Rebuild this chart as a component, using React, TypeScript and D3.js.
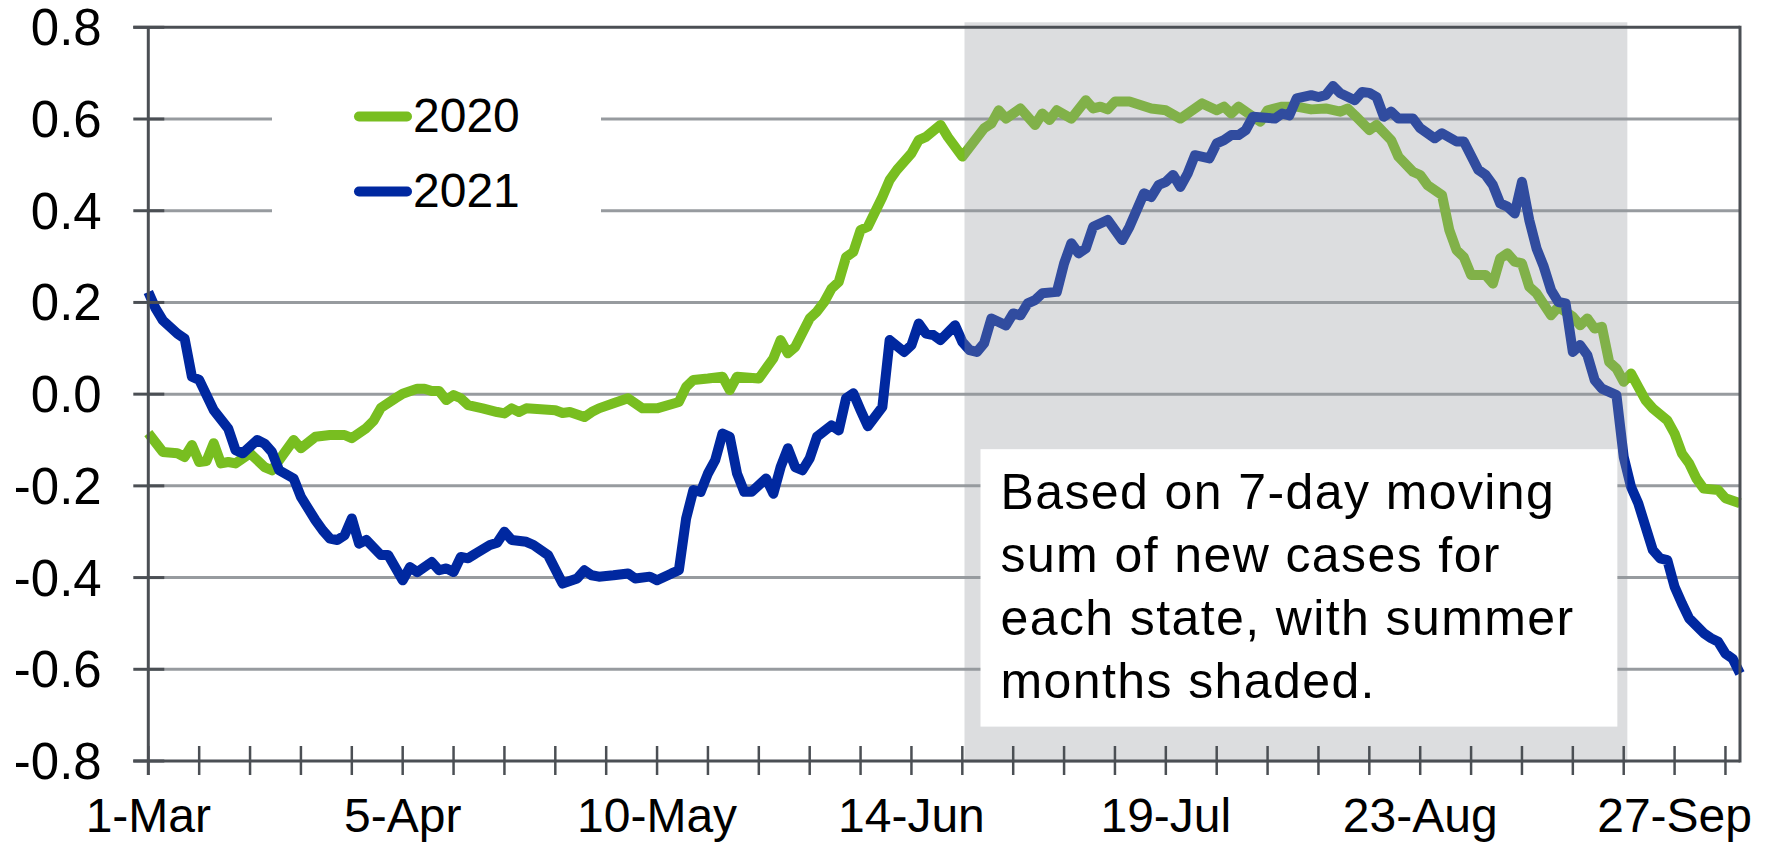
import React from "react";
import * as d3 from "d3";

// ---------- data (day offset from 1-Mar, value) ----------
const days2020 = [0,2,4,5,6,7,8,9,10,11,12,14,16,17,20,21,23,25,27,28,30,31,32,34,35,37,38,39,40,41,42,43,44,46,48,49,50,51,52,54,56,57,58,60,61,62,64,66,68,70,73,74,75,77,79,80,81,84,86,87,88,89,91,92,93,94,95,96,97,98,99,101,102,103,105,106,107,109,110,112,115,116,117,118,120,122,123,124,125,127,129,130,131,132,133,135,138,140,142,145,147,148,149,150,153,154,156,158,160,162,164,165,166,168,169,171,172,174,175,176,178,179,180,181,182,184,185,186,187,188,189,190,191,193,194,196,197,198,199,200,201,202,203,204,205,206,207,209,210,211,212,213,214,216,217,219];
const values2020 = [-0.085,-0.126,-0.129,-0.137,-0.111,-0.148,-0.146,-0.107,-0.151,-0.148,-0.151,-0.129,-0.159,-0.166,-0.1,-0.118,-0.093,-0.089,-0.089,-0.096,-0.074,-0.058,-0.03,-0.009,0.001,0.012,0.012,0.007,0.007,-0.013,-0.002,-0.009,-0.024,-0.031,-0.039,-0.042,-0.031,-0.039,-0.031,-0.033,-0.035,-0.041,-0.039,-0.05,-0.039,-0.031,-0.02,-0.009,-0.031,-0.031,-0.017,0.016,0.031,0.034,0.038,0.009,0.038,0.034,0.078,0.118,0.089,0.103,0.165,0.18,0.201,0.23,0.245,0.299,0.31,0.358,0.365,0.43,0.467,0.489,0.525,0.554,0.561,0.587,0.561,0.518,0.58,0.59,0.619,0.601,0.623,0.587,0.612,0.598,0.619,0.601,0.641,0.623,0.627,0.621,0.638,0.638,0.623,0.619,0.601,0.634,0.619,0.627,0.612,0.627,0.594,0.619,0.627,0.627,0.621,0.623,0.616,0.623,0.608,0.576,0.587,0.554,0.518,0.485,0.478,0.456,0.434,0.358,0.314,0.299,0.26,0.26,0.241,0.296,0.307,0.289,0.285,0.234,0.22,0.172,0.19,0.169,0.15,0.165,0.143,0.147,0.07,0.056,0.027,0.045,0.016,-0.013,-0.031,-0.057,-0.086,-0.129,-0.151,-0.184,-0.206,-0.209,-0.227,-0.238];

const days2021 = [0,1,2,4,5,6,7,9,11,12,13,15,16,17,18,20,21,23,24,25,26,27,28,29,30,32,33,35,36,37,39,40,41,42,43,44,45,47,48,49,50,52,53,55,57,59,60,61,62,64,66,67,69,70,72,73,74,75,76,77,78,79,80,81,82,83,85,86,87,88,89,90,91,92,94,95,96,97,98,99,101,102,104,105,106,107,108,109,111,112,113,114,115,116,118,119,120,121,122,123,125,126,127,128,129,130,132,134,135,137,138,139,140,141,142,143,144,146,147,148,149,150,151,152,155,156,157,158,160,161,162,163,164,166,167,168,169,170,171,172,174,175,177,178,180,181,183,184,185,186,187,188,189,190,191,192,193,194,195,196,197,198,199,200,202,203,204,205,207,208,209,210,211,212,214,215,216,217,218,219];
const values2021 = [0.223,0.187,0.161,0.132,0.121,0.038,0.031,-0.035,-0.075,-0.122,-0.129,-0.1,-0.108,-0.126,-0.166,-0.184,-0.224,-0.275,-0.297,-0.315,-0.318,-0.308,-0.271,-0.326,-0.318,-0.351,-0.351,-0.406,-0.377,-0.388,-0.366,-0.384,-0.38,-0.388,-0.355,-0.358,-0.348,-0.329,-0.324,-0.3,-0.318,-0.322,-0.329,-0.351,-0.413,-0.402,-0.384,-0.395,-0.398,-0.395,-0.391,-0.402,-0.398,-0.406,-0.391,-0.384,-0.271,-0.209,-0.213,-0.173,-0.144,-0.086,-0.093,-0.173,-0.213,-0.213,-0.184,-0.217,-0.159,-0.118,-0.159,-0.166,-0.14,-0.093,-0.068,-0.079,-0.009,0.002,-0.035,-0.07,-0.028,0.118,0.092,0.107,0.154,0.132,0.129,0.118,0.15,0.114,0.096,0.092,0.111,0.165,0.15,0.176,0.172,0.198,0.205,0.22,0.223,0.285,0.329,0.307,0.318,0.365,0.38,0.336,0.365,0.438,0.43,0.456,0.463,0.478,0.452,0.481,0.521,0.514,0.547,0.554,0.565,0.565,0.576,0.605,0.601,0.612,0.608,0.645,0.652,0.648,0.652,0.672,0.656,0.641,0.659,0.657,0.648,0.605,0.616,0.601,0.601,0.58,0.558,0.569,0.551,0.551,0.489,0.478,0.456,0.416,0.409,0.394,0.463,0.38,0.318,0.278,0.227,0.201,0.198,0.092,0.107,0.085,0.031,0.012,-0.002,-0.137,-0.202,-0.238,-0.34,-0.358,-0.362,-0.42,-0.456,-0.489,-0.521,-0.532,-0.54,-0.566,-0.577,-0.609];

const seriesNames = ["2020", "2021"];
const seriesColors = ["#78BE20", "#0028A0"];
const xTickDays = d3.range(0, 218, 7);
const xLabelDays = [0, 35, 70, 105, 140, 175, 210];
const xLabels = ["1-Mar", "5-Apr", "10-May", "14-Jun", "19-Jul", "23-Aug", "27-Sep"];
const yTicks = [0.8, 0.6, 0.4, 0.2, 0.0, -0.2, -0.4, -0.6, -0.8];
const summerStartDay = 112.3;
const summerEndDay = 203.5;
const noteLines = [
  "Based on 7-day moving",
  "sum of new cases for",
  "each state, with summer",
  "months shaded.",
];

const W = 1770;
const H = 844;
const FONT = "'Liberation Sans', Arial, Helvetica, sans-serif";

export default function App() {
  const left = 148.3, right = 1740, top = 27.3, bottom = 761;
  const x = d3.scaleLinear().domain([0, 219]).range([left, right]);
  const y = d3.scaleLinear().domain([-0.8, 0.8]).range([bottom, top]);

  const line = d3
    .line<[number, number]>()
    .x((d) => x(d[0]))
    .y((d) => y(d[1]));

  const s2020 = days2020.map((d, i) => [d, values2020[i]] as [number, number]);
  const s2021 = days2021.map((d, i) => [d, values2021[i]] as [number, number]);
  const series = [s2020, s2021];

  const axisColor = "#4b4f54";
  const gridColor = "#979b9f";

  const boxX = x(summerStartDay) + 16;
  const boxW = x(summerEndDay) - 10 - boxX;
  const boxY = y(-0.12);
  const boxH = y(-0.725) - boxY;

  return (
    <div style={{ position: "fixed", left: 0, top: 0, width: W, height: H, background: "#fff" }}>
      <svg width={W} height={H} style={{ display: "block" }} fontFamily={FONT}>
        <rect x={0} y={0} width={W} height={H} fill="#fff" />
        {/* gridlines */}
        {yTicks
          .filter((t) => t !== 0.8 && t !== -0.8)
          .map((t) => (
            <line key={"g" + t} x1={left} x2={right} y1={y(t)} y2={y(t)} stroke={gridColor} strokeWidth={3} />
          ))}
        {/* legend background */}
        <rect x={272} y={y(0.7)} width={329} height={y(0.3) - y(0.7)} fill="#fff" />
        {/* data lines */}
        {series.map((s, i) => (
          <path
            key={"s" + i}
            d={line(s) || ""}
            fill="none"
            stroke={seriesColors[i]}
            strokeWidth={10}
            strokeLinejoin="round"
          />
        ))}
        {/* summer shading */}
        <rect
          x={x(summerStartDay)}
          y={top - 5}
          width={x(summerEndDay) - x(summerStartDay)}
          height={bottom - top + 7}
          fill="rgb(150,153,158)"
          fillOpacity={0.33}
        />
        {/* axes & border */}
        <line x1={left - 15} x2={right} y1={y(0.8)} y2={y(0.8)} stroke={axisColor} strokeWidth={3} />
        <line x1={right} x2={right} y1={top - 1.5} y2={bottom + 1.5} stroke={axisColor} strokeWidth={3} />
        <line x1={left} x2={left} y1={top} y2={bottom + 14} stroke={axisColor} strokeWidth={3} />
        <line x1={left - 15} x2={right} y1={bottom} y2={bottom} stroke={axisColor} strokeWidth={3} />
        {yTicks.map((t) => (
          <line key={"yt" + t} x1={left - 15} x2={left + 16} y1={y(t)} y2={y(t)} stroke={axisColor} strokeWidth={3} />
        ))}
        {xTickDays.map((d) => (
          <line key={"xt" + d} x1={x(d)} x2={x(d)} y1={bottom - 15} y2={bottom + 14} stroke={axisColor} strokeWidth={2.5} />
        ))}
        {/* y labels */}
        {yTicks.map((t) => (
          <text key={"yl" + t} x={left - 46.6} y={y(t) + 18} textAnchor="end" fontSize={51} fill="#000">
            {d3.format(".1f")(t).replace("−", "-")}
          </text>
        ))}
        {/* x labels */}
        {xLabelDays.map((d, i) => (
          <text key={"xl" + d} x={x(d)} y={bottom + 71} textAnchor="middle" fontSize={48} fill="#000">
            {xLabels[i]}
          </text>
        ))}
        {/* note box */}
        <rect x={boxX} y={boxY} width={boxW} height={boxH} fill="#fff" />
        {noteLines.map((l, i) => (
          <text key={"n" + i} x={boxX + 20} y={boxY + 60 + i * 63} fontSize={50} letterSpacing={1.4} fill="#000">
            {l}
          </text>
        ))}
        {/* legend */}
        {seriesNames.map((n, i) => {
          const ly = y(0.6) - 2.5 + i * 75;
          return (
            <g key={"lg" + n}>
              <line x1={359} x2={407} y1={ly} y2={ly} stroke={seriesColors[i]} strokeWidth={10} strokeLinecap="round" />
              <text x={413} y={ly + 15} fontSize={48} fill="#000">
                {n}
              </text>
            </g>
          );
        })}
      </svg>
    </div>
  );
}
